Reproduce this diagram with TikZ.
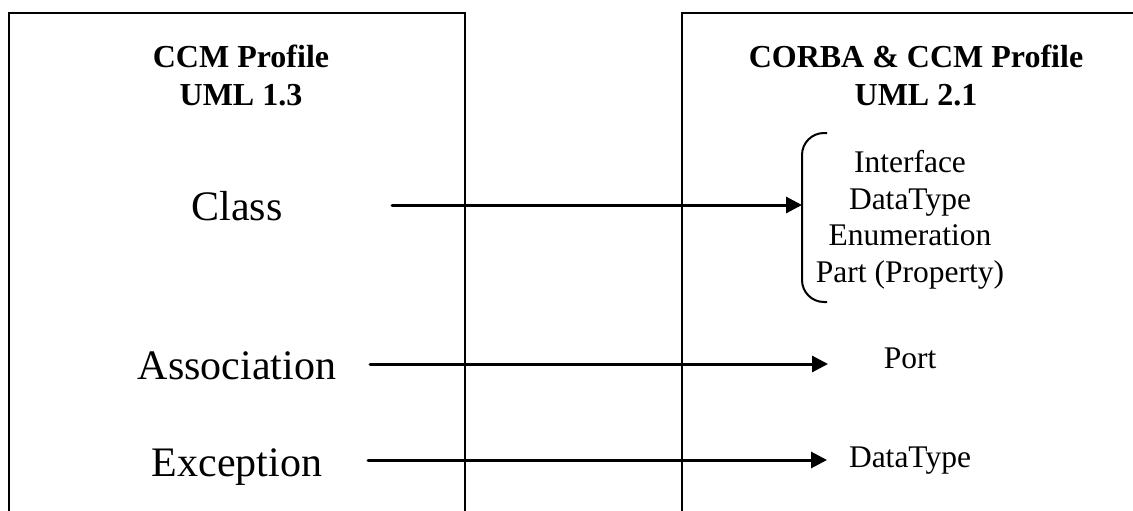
\documentclass[tikz,border=0pt]{standalone}
\usepackage{fontspec}
\setmainfont{Liberation Serif}
\usetikzlibrary{arrows.meta}
\tikzset{
  boxline/.style={line width=2pt, line cap=rect},
  maparrow/.style={line width=3pt, line cap=round, -{Triangle[length=16pt,width=16pt]}},
  headtxt/.style={anchor=base, inner sep=0pt, font=\fontsize{32}{38}\selectfont\bfseries},
  bigtxt/.style={anchor=base, inner sep=0pt, font=\fontsize{42}{48}\selectfont},
  smalltxt/.style={anchor=base, inner sep=0pt, font=\fontsize{31.5}{36}\selectfont},
}
\begin{document}
\begin{tikzpicture}[x=1pt,y=-1pt]
\useasboundingbox[fill=white] (0,0) rectangle (1133,511);
% boxes
\draw[boxline] (9,511) -- (9,13) -- (465,13) -- (465,511);
\draw[boxline] (682,511) -- (682,13) -- (1133,13);
% headers
\node[headtxt] (lh1) at (241,67) {CCM Profile};
\node[headtxt] (lh2) at (241,106) {UML 1.3};
\node[headtxt] (rh1) at (916,67) {CORBA \& CCM Profile};
\node[headtxt] (rh2) at (916,106) {UML 2.1};
% left items
\node[bigtxt] (class) at (237,220) {Class};
\node[bigtxt] (assoc) at (237,379) {Association};
\node[bigtxt] (excep) at (237,476) {Exception};
% right items
\node[smalltxt] (iface) at (910,172) {Interface};
\node[smalltxt] (dtype) at (910,209) {DataType};
\node[smalltxt] (enum) at (910,245) {Enumeration};
\node[smalltxt] (part) at (910,282) {Part (Property)};
\node[smalltxt] (port) at (910,368) {Port};
\node[smalltxt] (dtype2) at (910,467) {DataType};
% bracket
\draw[line width=2pt, rounded corners=22pt] (827,133) -| (802,302) -- (827,302);
\coordinate (brk) at (802,205);
% arrows
\coordinate (a1) at (392,205);
\coordinate (a2) at (370,364);
\coordinate (b2) at (828,364);
\coordinate (a3) at (368,460);
\coordinate (b3) at (827,460);
\draw[maparrow] (a1) -- (brk);
\draw[maparrow] (a2) -- (b2);
\draw[maparrow] (a3) -- (b3);
\end{tikzpicture}
\end{document}
